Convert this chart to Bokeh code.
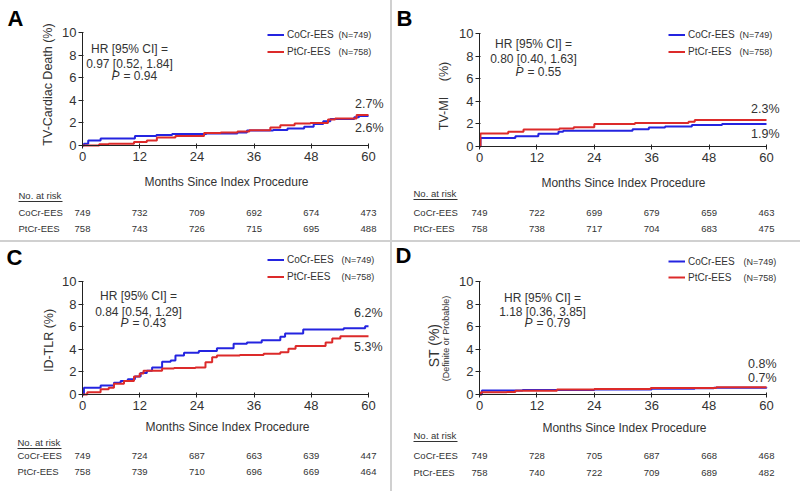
import math
from bokeh.plotting import figure
from bokeh.models import Range1d, Label, Legend, LegendItem, Spacer
from bokeh.layouts import row, column
from bokeh.core.properties import value
from bokeh.embed import file_html
from bokeh.resources import INLINE

FONT = "Liberation Sans"
TXT = "#333333"
BLUE = "#2424e0"
RED = "#dc2a2a"

month_ticks = [0, 12, 24, 36, 48, 60]
pct_ticks = [0, 2, 4, 6, 8, 10]
arm_names = ["CoCr-EES", "PtCr-EES"]
arm_n = ["(N=749)", "(N=758)"]
x_title = "Months Since Index Procedure"
risk_title = "No. at risk"

# ---- Panel A: TV-Cardiac Death ----
a_cocr_t = [0, 0.3, 1.2, 3.8, 11.0, 15.5, 18.8, 26.0, 32.5, 34.5, 40.0, 43.0, 46.5, 48.5, 50.5, 52.0, 57.0, 58.0, 60]
a_cocr_y = [0, 0.15, 0.45, 0.62, 0.85, 0.92, 1.02, 1.06, 1.15, 1.33, 1.38, 1.5, 1.65, 1.9, 2.15, 2.35, 2.5, 2.6, 2.6]
a_ptcr_t = [0, 3.5, 5.5, 10.8, 13.5, 15.6, 19.5, 25.5, 29.0, 32.5, 35.0, 39.4, 41.5, 44.5, 47.8, 51.5, 53.0, 57.5, 60]
a_ptcr_y = [0, 0.1, 0.15, 0.3, 0.45, 0.7, 0.85, 1.1, 1.15, 1.25, 1.35, 1.6, 1.8, 1.95, 2.0, 2.3, 2.4, 2.7, 2.7]
a_risk_cocr = [749, 732, 709, 692, 674, 473]
a_risk_ptcr = [758, 743, 726, 715, 695, 488]
a_end = ["2.7%", "2.6%"]
a_hr = "0.97 [0.52, 1.84]"
a_p = "0.94"
a_ylabel = ["TV-Cardiac Death (%)"]

# ---- Panel B: TV-MI ----
b_cocr_t = [0, 0.2, 7.5, 12.3, 16.5, 17.5, 32.0, 35.4, 38.8, 44.4, 50.7, 60]
b_cocr_y = [0, 0.75, 0.9, 1.12, 1.3, 1.4, 1.53, 1.68, 1.77, 1.9, 2.0, 2.0]
b_ptcr_t = [0, 0.2, 6.0, 9.2, 16.7, 19.7, 24.0, 32.5, 43.7, 45.0, 60]
b_ptcr_y = [0, 1.15, 1.3, 1.5, 1.6, 1.7, 2.0, 2.07, 2.2, 2.35, 2.35]
b_risk_cocr = [749, 722, 699, 679, 659, 463]
b_risk_ptcr = [758, 738, 717, 704, 683, 475]
b_end = ["2.3%", "1.9%"]
b_hr = "0.80 [0.40, 1.63]"
b_p = "0.55"
b_ylabel = ["TV-MI", "(%)"]

# ---- Panel C: ID-TLR ----
c_cocr_t = [0, 0.3, 3.8, 6.6, 8.0, 9.5, 11.0, 12.2, 13.5, 14.6, 16.7, 18.5, 19.5, 21.3, 24.4, 28.2, 31.7, 34.5, 37.6, 41.5, 42.5, 46.3, 54.8, 59.3, 60]
c_cocr_y = [0, 0.6, 0.8, 1.05, 1.2, 1.35, 1.6, 1.9, 2.1, 2.4, 2.9, 3.0, 3.45, 3.7, 3.85, 4.1, 4.5, 4.6, 4.8, 5.1, 5.4, 5.75, 5.87, 6.05, 6.05]
c_ptcr_t = [0, 1.0, 3.8, 5.5, 6.6, 8.7, 10.8, 12.0, 12.8, 16.7, 19.2, 23.7, 25.8, 27.2, 28.2, 33.0, 38.0, 41.5, 43.2, 44.7, 51.0, 52.4, 54.1, 60]
c_ptcr_y = [0, 0.2, 0.47, 0.6, 0.95, 1.2, 1.6, 1.85, 2.1, 2.3, 2.35, 2.4, 2.85, 3.3, 3.45, 3.5, 3.6, 3.75, 4.05, 4.3, 4.6, 4.95, 5.15, 5.15]
c_risk_cocr = [749, 724, 687, 663, 639, 447]
c_risk_ptcr = [758, 739, 710, 696, 669, 464]
c_end = ["6.2%", "5.3%"]
c_hr = "0.84 [0.54, 1.29]"
c_p = "0.43"
c_ylabel = ["ID-TLR (%)"]

# ---- Panel D: ST ----
d_cocr_t = [0, 0.5, 9.0, 24.0, 36.0, 45.0, 49.0, 60]
d_cocr_y = [0, 0.35, 0.4, 0.45, 0.5, 0.55, 0.6, 0.62]
d_ptcr_t = [0, 0.3, 5.7, 7.5, 16.2, 24.0, 35.8, 49.5, 60]
d_ptcr_y = [0, 0.2, 0.22, 0.33, 0.45, 0.48, 0.58, 0.65, 0.65]
d_risk_cocr = [749, 728, 705, 687, 668, 468]
d_risk_ptcr = [758, 740, 722, 709, 689, 482]
d_end = ["0.8%", "0.7%"]
d_hr = "1.18 [0.36, 3.85]"
d_p = "0.79"
d_ylabel = ["ST (%)", "(Definite or Probable)"]


def make_panel(letter, series, risk, ends, hr, pval, ylabels, L):
    # L holds page-pixel layout; the frame fills the whole figure and
    # the axes are pinned at 0 with fixed_location.
    x0, x1, y0, y1 = L["box"]
    fl, fr, ft, fb = L["frame"]
    fw, fh = fr - fl, fb - ft

    def X(px):
        return (px - fl) * 60.0 / fw

    def Y(py):
        return (fb - py) * 10.0 / fh

    p = figure(width=x1 - x0, height=y1 - y0,
               x_range=Range1d(X(x0), X(x1)), y_range=Range1d(Y(y1), Y(y0)),
               output_backend="svg", toolbar_location=None, title=None,
               min_border_left=0, min_border_right=0, min_border_top=0, min_border_bottom=0)
    p.outline_line_color = None
    p.xgrid.visible = False
    p.ygrid.visible = False
    p.background_fill_color = "white"
    p.border_fill_color = "white"

    for ax in (p.xaxis[0], p.yaxis[0]):
        ax.axis_line_color = "#222222"
        ax.major_tick_line_color = "#222222"
        ax.minor_tick_line_color = None
        ax.major_label_text_font = FONT
        ax.major_label_text_font_size = "13px"
        ax.major_label_text_color = TXT
        ax.fixed_location = 0
    p.xaxis.ticker = month_ticks
    p.yaxis.ticker = pct_ticks
    p.xaxis.bounds = (0, 60)
    p.yaxis.bounds = (0, 10)
    p.xaxis.major_tick_in = 2
    p.xaxis.major_tick_out = 3
    p.xaxis.major_label_standoff = 3
    p.yaxis.major_tick_in = 1
    p.yaxis.major_tick_out = 4
    p.yaxis.major_label_standoff = 2

    renderers = []
    for (t, y), col in zip(series, (BLUE, RED)):
        r = p.step(x=t, y=y, mode="after", line_color=col, line_width=2)
        renderers.append(r)

    ih = L["ih"]
    legend_bottom = L["ly"] - ih / 2.0 + 2 * ih
    leg = Legend(items=[LegendItem(label=value(arm_names[i]), renderers=[renderers[i]]) for i in range(2)],
                 location=(L["lx"] - x0, y1 - legend_bottom),
                 orientation="vertical", padding=0, margin=0, spacing=0,
                 glyph_width=17, glyph_height=ih, label_height=ih, label_standoff=3,
                 label_text_font=FONT, label_text_font_size="10px", label_text_color=TXT,
                 border_line_alpha=0, background_fill_alpha=0)
    p.add_layout(leg)

    def lab(text, px, py, size, align="left", baseline="middle", style="normal", color=TXT, angle=0):
        p.add_layout(Label(x=X(px), y=Y(py), text=text, text_font=FONT, text_font_size=size,
                           text_align=align, text_baseline=baseline, text_font_style=style,
                           text_color=color, angle=angle))

    # axis titles
    lab(x_title, L["xt"][0], L["xt"][1], "12px", align="center")
    for (txt, px, py, size) in zip(ylabels, L["yt_x"], L["yt_y"], L["yt_s"]):
        lab(txt, px, py, size, align="center", angle=math.pi / 2)

    # N counts next to legend entries
    for i in range(2):
        lab(arm_n[i], L["nx"], L["ly"] + i * ih, "9px")

    # panel letter
    lab(letter, L["lt"][0], L["lt"][1], "22px", style="bold", color="#000000")

    # HR block
    cx = L["hrx"]
    lab("HR [95% CI] =", cx, L["hry"][0], "12px", align="center")
    lab(hr, cx, L["hry"][1], "12px", align="center")
    lab("P", cx - 10, L["hry"][2], "12px", align="right", style="italic")
    lab("= " + pval, cx - 6, L["hry"][2], "12px", align="left")

    # end-point labels
    lab(ends[0], L["ex"], L["ey"][0], "12.5px", align="right")
    lab(ends[1], L["ex"], L["ey"][1], "12.5px", align="right")

    # number at risk table
    lab(risk_title, L["rx"], L["ry"][0], "9.5px")
    uy = Y(L["ry"][0] + 6)
    p.segment(x0=[X(L["rx"])], y0=[uy], x1=[X(L["rx"] + 44)], y1=[uy], line_color=TXT, line_width=1)
    for k in range(2):
        lab(arm_names[k], L["rx"], L["ry"][k + 1], "9.5px")
        for m, n in zip(month_ticks, risk[k]):
            p.add_layout(Label(x=m, y=Y(L["ry"][k + 1]), text=str(n), text_font=FONT,
                               text_font_size="9.5px", text_align="center", text_baseline="middle",
                               text_color=TXT))
    return p


LA = dict(box=(0, 390, 0, 240), frame=(82, 368, 32, 145),
          xt=(226, 181), yt_x=[47], yt_y=[84], yt_s=["12.5px"],
          ih=17, lx=267, ly=34, nx=338, lt=(7, 17.5),
          hrx=129, hry=(48, 63, 75), ex=383, ey=(103, 127), rx=18, ry=(195, 212, 228))
LB = dict(box=(392, 800, 0, 240), frame=(479, 766, 33, 146),
          xt=(623, 182), yt_x=[443, 443], yt_y=[113, 71], yt_s=["12.5px", "12.5px"],
          ih=17, lx=668, ly=34, nx=739, lt=(396, 17.5),
          hrx=533, hry=(43, 58, 71), ex=779, ey=(108, 133), rx=413, ry=(193, 212, 228))
LC = dict(box=(0, 390, 242, 491), frame=(82, 368, 281, 394),
          xt=(227, 426), yt_x=[48], yt_y=[340], yt_s=["12.5px"],
          ih=17, lx=267, ly=259, nx=341, lt=(6, 256.5),
          hrx=138, hry=(295, 311, 322), ex=382, ey=(312, 346), rx=17, ry=(442, 455, 471))
LD = dict(box=(392, 800, 242, 491), frame=(479, 766, 281, 394),
          xt=(624, 427), yt_x=[433, 445], yt_y=[345, 338], yt_s=["14px", "9px"],
          ih=16, lx=668, ly=261, nx=743, lt=(395, 254.5),
          hrx=542, hry=(297, 311, 322), ex=776, ey=(363, 377), rx=413, ry=(435, 455, 472))

pA = make_panel("A", [(a_cocr_t, a_cocr_y), (a_ptcr_t, a_ptcr_y)],
                [a_risk_cocr, a_risk_ptcr], a_end, a_hr, a_p, a_ylabel, LA)
pB = make_panel("B", [(b_cocr_t, b_cocr_y), (b_ptcr_t, b_ptcr_y)],
                [b_risk_cocr, b_risk_ptcr], b_end, b_hr, b_p, b_ylabel, LB)
pC = make_panel("C", [(c_cocr_t, c_cocr_y), (c_ptcr_t, c_ptcr_y)],
                [c_risk_cocr, c_risk_ptcr], c_end, c_hr, c_p, c_ylabel, LC)
pD = make_panel("D", [(d_cocr_t, d_cocr_y), (d_ptcr_t, d_ptcr_y)],
                [d_risk_cocr, d_risk_ptcr], d_end, d_hr, d_p, d_ylabel, LD)

SEP = "#d0d0d0"
vs1 = Spacer(width=2, height=240, styles={"background-color": SEP})
vs2 = Spacer(width=2, height=249, styles={"background-color": SEP})
hs = Spacer(width=800, height=2, styles={"background-color": SEP})

layout = column(row(pA, vs1, pB), hs, row(pC, vs2, pD))

with open("out.html", "w") as f:
    f.write(file_html(layout, INLINE))
